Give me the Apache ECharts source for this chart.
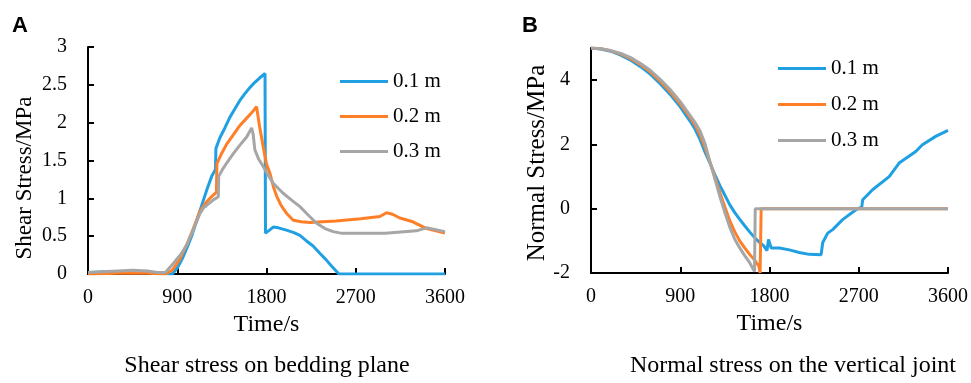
<!DOCTYPE html>
<html>
<head>
<meta charset="utf-8">
<script src="https://cdn.jsdelivr.net/npm/echarts@6/dist/echarts.min.js"></script>
<style>
  html, body { margin: 0; padding: 0; background: #fff; }
  #chart { width: 971px; height: 383px; }
</style>
</head>
<body>
<div id="chart"></div>
<script>
// Shared time axis ticks (s)
const timeTicks = [0, 900, 1800, 2700, 3600];
const seriesNames = ['0.1 m', '0.2 m', '0.3 m'];

// Panel A: shear stress on the bedding plane, [time s, stress MPa]
const shear01 = [[0,0.02],[200,0.03],[400,0.03],[600,0.02],[750,0.01],[850,0],[900,0.08],[950,0.2],[1000,0.35],[1050,0.52],[1100,0.72],[1150,0.92],[1200,1.12],[1250,1.3],[1285,1.38],[1290,1.66],[1330,1.8],[1380,1.93],[1430,2.07],[1480,2.18],[1530,2.29],[1580,2.38],[1630,2.46],[1680,2.53],[1730,2.59],[1785,2.65],[1790,0.54],[1830,0.58],[1868,0.62],[1920,0.61],[2000,0.58],[2070,0.55],[2137,0.51],[2200,0.44],[2270,0.37],[2340,0.27],[2400,0.19],[2460,0.1],[2530,0],[3600,0]];
const shear02 = [[0,0],[300,0.01],[600,0.01],[780,0],[850,0.05],[927,0.2],[1000,0.4],[1062,0.6],[1129,0.83],[1200,0.96],[1260,1.04],[1295,1.08],[1300,1.46],[1350,1.6],[1400,1.72],[1465,1.84],[1530,1.96],[1600,2.06],[1650,2.13],[1700,2.21],[1730,1.95],[1767,1.68],[1801,1.45],[1835,1.33],[1870,1.15],[1902,1.03],[1950,0.9],[2003,0.8],[2070,0.71],[2150,0.69],[2238,0.68],[2500,0.7],[2750,0.73],[2943,0.76],[3011,0.81],[3070,0.79],[3145,0.74],[3276,0.69],[3414,0.6],[3600,0.54]];
const shear03 = [[0,0.02],[150,0.03],[300,0.04],[450,0.05],[600,0.04],[700,0.02],[780,0.02],[860,0.14],[930,0.25],[995,0.38],[1060,0.58],[1129,0.8],[1163,0.87],[1264,0.98],[1314,1.02],[1318,1.29],[1360,1.39],[1400,1.47],[1465,1.59],[1530,1.7],[1600,1.81],[1650,1.93],[1665,1.85],[1683,1.64],[1720,1.52],[1767,1.42],[1820,1.3],[1868,1.2],[1935,1.11],[1950,1.12],[1965,1.07],[2050,0.98],[2137,0.89],[2220,0.78],[2305,0.67],[2390,0.6],[2473,0.56],[2550,0.54],[2641,0.54],[3000,0.54],[3310,0.57],[3414,0.61],[3600,0.56]];

// Panel B: normal stress on the vertical joint, [time s, stress MPa]
const normal01 = [[0,5],[100,4.97],[200,4.9],[300,4.78],[400,4.62],[500,4.42],[600,4.18],[700,3.88],[800,3.55],[900,3.17],[1000,2.72],[1050,2.47],[1100,2.15],[1150,1.76],[1200,1.42],[1250,1.05],[1300,0.72],[1350,0.42],[1400,0.12],[1450,-0.12],[1500,-0.33],[1550,-0.53],[1600,-0.72],[1650,-0.9],[1700,-1.05],[1740,-1.15],[1775,-1.3],[1790,-0.96],[1817,-1.22],[1900,-1.22],[2000,-1.28],[2100,-1.36],[2200,-1.42],[2320,-1.43],[2337,-1.05],[2387,-0.76],[2437,-0.65],[2537,-0.34],[2672,-0.03],[2730,0.05],[2740,0.28],[2839,0.59],[3007,1.0],[3107,1.42],[3275,1.78],[3342,1.99],[3476,2.25],[3600,2.44]];
const normal02 = [[0,5],[100,4.98],[200,4.91],[300,4.81],[400,4.67],[500,4.48],[600,4.25],[700,3.96],[800,3.63],[900,3.26],[1000,2.83],[1050,2.6],[1100,2.3],[1150,1.9],[1200,1.45],[1250,0.98],[1300,0.5],[1350,0.05],[1400,-0.38],[1450,-0.72],[1500,-1.0],[1550,-1.22],[1600,-1.42],[1650,-1.6],[1693,-1.79],[1705,-2.0],[1712,-2.05],[1716,0],[3600,0]];
const normal03 = [[0,5],[100,4.98],[200,4.92],[300,4.83],[400,4.7],[500,4.52],[600,4.3],[700,4.02],[800,3.7],[900,3.33],[1000,2.9],[1050,2.68],[1100,2.42],[1150,2.02],[1200,1.45],[1250,0.92],[1300,0.38],[1350,-0.12],[1400,-0.58],[1450,-0.95],[1500,-1.22],[1550,-1.46],[1600,-1.68],[1649,-1.95],[1656,0],[3600,0]];

const colors = ['#20a0e2', '#ff7f27', '#a6a6a6'];
const serif = 'Liberation Serif, Times New Roman, serif';

function xAxisFor(gridIndex) {
  return {
    type: 'value', gridIndex: gridIndex,
    min: timeTicks[0], max: timeTicks[timeTicks.length - 1],
    interval: timeTicks[1] - timeTicks[0],
    name: 'Time/s', nameLocation: 'middle', nameGap: 36,
    nameTextStyle: { fontFamily: serif, fontSize: 24, color: '#000' },
    axisLine: { onZero: false, lineStyle: { color: '#000', width: 2 } },
    axisTick: { inside: true, length: 6, lineStyle: { color: '#000', width: 2 } },
    axisLabel: { margin: 14, fontFamily: serif, fontSize: 20, color: '#000',
      formatter: v => String(v) },
    splitLine: { show: false }
  };
}

function yAxisFor(gridIndex, min, max, interval) {
  return {
    type: 'value', gridIndex: gridIndex,
    min: min, max: max, interval: interval,
    axisLine: { show: true, onZero: false, lineStyle: { color: '#000', width: 2 } },
    axisTick: { show: true, inside: true, length: 6, lineStyle: { color: '#000', width: 2 } },
    axisLabel: { margin: 21, fontFamily: serif, fontSize: 20, color: '#000',
      formatter: v => String(v) },
    splitLine: { show: false }
  };
}

function lineSeries(name, data, idx, axisIdx) {
  return {
    name: name, type: 'line', data: data,
    xAxisIndex: axisIdx, yAxisIndex: axisIdx,
    showSymbol: false, symbol: 'none',
    lineStyle: { width: 3, color: colors[idx] },
    itemStyle: { color: colors[idx] },
    animation: false
  };
}

function legendAt(left, top, gap) {
  return {
    orient: 'vertical', left: left, top: top,
    data: seriesNames, icon: 'rect', itemWidth: 48, itemHeight: 3, itemGap: gap,
    textStyle: { fontFamily: serif, fontSize: 21, color: '#000' }
  };
}

const chart = echarts.init(document.getElementById('chart'), null, { renderer: 'canvas' });
const yB = yAxisFor(1, -2, 5, 2);
yB.axisLabel.showMaxLabel = false;

chart.setOption({
  animation: false,
  grid: [
    { left: 88, top: 47, width: 357, height: 227 },
    { left: 591, top: 48, width: 358, height: 225 }
  ],
  xAxis: [xAxisFor(0), xAxisFor(1)],
  yAxis: [yAxisFor(0, 0, 3, 0.5), yB],
  legend: [legendAt(335, 66, 14), legendAt(773, 53, 15)],
  title: [
    { text: 'Shear stress on bedding plane', left: 262, top: 349, textAlign: 'center',
      textStyle: { fontFamily: serif, fontSize: 24, fontWeight: 'normal', color: '#000' } },
    { text: 'Normal stress on the vertical joint', left: 788, top: 349, textAlign: 'center',
      textStyle: { fontFamily: serif, fontSize: 24, fontWeight: 'normal', color: '#000' } }
  ],
  graphic: [
    { type: 'text', left: 12, top: 15,
      style: { text: 'A', font: 'bold 22px Liberation Sans, Arial, sans-serif', fill: '#000' } },
    { type: 'text', left: 522, top: 15,
      style: { text: 'B', font: 'bold 22px Liberation Sans, Arial, sans-serif', fill: '#000' } },
    { type: 'text', x: 25, y: 178, rotation: Math.PI / 2,
      style: { text: 'Shear Stress/MPa', font: '23px ' + serif, fill: '#000', align: 'center', verticalAlign: 'middle' } },
    { type: 'text', x: 537, y: 163, rotation: Math.PI / 2,
      style: { text: 'Normal Stress/MPa', font: '25px ' + serif, fill: '#000', align: 'center', verticalAlign: 'middle' } }
  ],
  series: [
    lineSeries(seriesNames[0], shear01, 0, 0),
    lineSeries(seriesNames[1], shear02, 1, 0),
    lineSeries(seriesNames[2], shear03, 2, 0),
    lineSeries(seriesNames[0], normal01, 0, 1),
    lineSeries(seriesNames[1], normal02, 1, 1),
    lineSeries(seriesNames[2], normal03, 2, 1)
  ]
});
</script>
</body>
</html>
